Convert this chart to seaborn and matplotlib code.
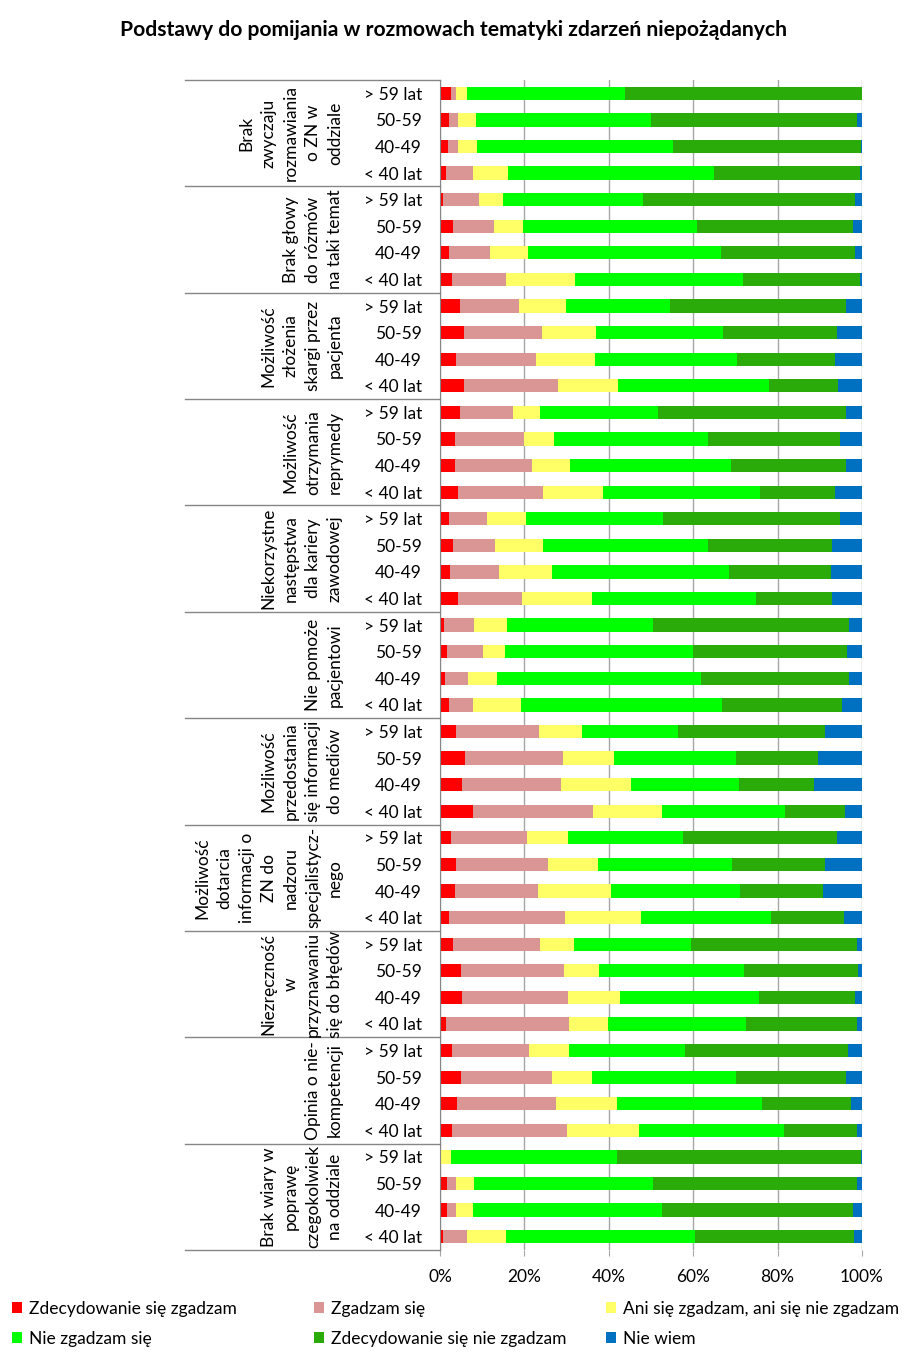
import numpy as np
import pandas as pd
import matplotlib
matplotlib.use('Agg')
import matplotlib.pyplot as plt
import matplotlib.transforms as mtransforms
from matplotlib.patches import Patch
import seaborn as sns

plt.rcParams['font.family'] = ['Lato', 'DejaVu Sans']

groups = [
    "Brak\nzwyczaju\nrozmawiania\no ZN w\noddziale",
    "Brak głowy\ndo rózmów\nna taki temat",
    "Możliwość\nzłożenia\nskargi przez\npacjenta",
    "Możliwość\notrzymania\nreprymedy",
    "Niekorzystne\nnastępstwa\ndla kariery\nzawodowej",
    "Nie pomoże\npacjentowi",
    "Możliwość\nprzedostania\nsię informacji\ndo mediów",
    "Możliwość\ndotarcia\ninformacji o\nZN do\nnadzoru\nspecjalistycz-\nnego",
    "Niezręczność\nw\nprzyznawaniu\nsię do błędów",
    "Opinia o nie-\nkompetencji",
    "Brak wiary w\npoprawę\nczegokolwiek\nna oddziale",
]
ages = ['> 59 lat', '50-59', '40-49', '< 40 lat']

series_names = ['Zdecydowanie się zgadzam', 'Zgadzam się', 'Ani się zgadzam, ani się nie zgadzam',
                'Nie zgadzam się', 'Zdecydowanie się nie zgadzam', 'Nie wiem']
colors = ['#FF0000', '#D99694', '#FFFF66', '#00FF00', '#2AAB0A', '#0070C0']

# values in %, rows: for each group > 59, 50-59, 40-49, < 40
zdecydowanie_tak = [2.6, 2.1, 1.8, 1.4, 0.7, 3.1, 2.1, 2.8, 4.7, 5.7, 3.8, 5.7, 4.7, 3.6, 3.6, 4.3,
                    2.1, 3.1, 2.4, 4.3, 0.9, 1.7, 1.2, 2.1, 3.8, 5.9, 5.2, 7.8, 2.6, 3.8, 3.6, 2.1,
                    3.1, 5.0, 5.2, 1.4, 2.8, 5.0, 4.0, 2.8, 0.2, 1.7, 1.7, 0.7]
zgadzam = [1.3, 2.2, 2.5, 6.4, 8.5, 9.7, 9.7, 12.8, 14.0, 18.5, 18.9, 22.3, 12.6, 16.3, 18.2, 20.1,
           9.0, 9.9, 11.6, 15.1, 7.2, 8.5, 5.4, 5.7, 19.7, 23.2, 23.5, 28.5, 18.0, 21.8, 19.6, 27.5,
           20.6, 24.4, 25.1, 29.2, 18.3, 21.5, 23.5, 27.3, 0.0, 2.1, 2.1, 5.7]
ani_ani = [2.4, 4.2, 4.5, 8.3, 5.7, 6.9, 9.1, 16.4, 11.2, 12.8, 14.0, 14.2, 6.4, 7.1, 9.0, 14.2,
           9.3, 11.4, 12.5, 16.6, 7.8, 5.2, 6.9, 11.4, 10.1, 12.1, 16.6, 16.3, 9.7, 11.8, 17.3, 18.0,
           8.1, 8.3, 12.4, 9.2, 9.5, 9.5, 14.4, 17.1, 2.4, 4.3, 4.0, 9.2]
nie_zgadzam = [37.5, 41.5, 46.4, 48.8, 33.2, 41.2, 45.7, 39.8, 24.6, 30.1, 33.7, 35.8, 28.0, 36.5, 38.2, 37.2,
               32.4, 39.1, 42.0, 38.9, 34.6, 44.6, 48.3, 47.6, 22.8, 28.9, 25.6, 29.2, 27.3, 31.8, 30.6, 30.8,
               27.7, 34.3, 32.9, 32.7, 27.5, 34.1, 34.4, 34.3, 39.3, 42.4, 44.8, 44.8]
zdecydowanie_nie = [56.2, 48.9, 44.5, 34.6, 50.2, 37.0, 31.7, 27.7, 41.7, 27.0, 23.2, 16.3, 44.5, 31.3, 27.2, 17.8,
                    42.0, 29.4, 24.2, 18.0, 46.4, 36.4, 35.1, 28.5, 34.8, 19.5, 17.7, 14.2, 36.5, 22.0, 19.7, 17.3,
                    39.3, 27.1, 22.7, 26.3, 38.6, 26.1, 21.1, 17.3, 57.9, 48.3, 45.3, 37.7]
nie_wiem = [0.0, 1.1, 0.3, 0.5, 1.7, 2.1, 1.7, 0.5, 3.8, 5.9, 6.4, 5.7, 3.8, 5.2, 3.8, 6.4,
            5.2, 7.1, 7.3, 7.1, 3.1, 3.6, 3.1, 4.7, 8.8, 10.4, 11.4, 4.0, 5.9, 8.8, 9.2, 4.3,
            1.2, 0.9, 1.7, 1.2, 3.3, 3.8, 2.6, 1.2, 0.2, 1.2, 2.1, 1.9]

vals = np.array([zdecydowanie_tak, zgadzam, ani_ani, nie_zgadzam, zdecydowanie_nie, nie_wiem]).T
vals = vals / vals.sum(axis=1, keepdims=True) * 100
cum = vals.cumsum(axis=1)

row_ids = [f"{g}|{a}" for g in range(len(groups)) for a in ages]
df = pd.DataFrame(cum, columns=series_names)
df['row'] = row_ids

fig = plt.figure(figsize=(9.07, 13.55), dpi=100)
ax = fig.add_axes([440 / 907, 1 - 1250 / 1355, 422 / 907, 1170 / 1355])

# stacked bars: draw cumulative totals from the last series to the first
for i in reversed(range(len(series_names))):
    sns.barplot(data=df, x=series_names[i], y='row', order=row_ids, orient='h',
                color=colors[i], saturation=1, width=0.5, linewidth=0, ax=ax)

ax.set_xlim(0, 100)
ax.set_ylim(len(row_ids) - 0.5, -0.5)
ax.set_xticks(range(0, 101, 20))
ax.set_xticklabels([f"{t}%" for t in range(0, 101, 20)], fontsize=12.5)
ax.tick_params(axis='x', length=4, color='#A6A6A6', pad=10)
ax.xaxis.grid(True, color='#A6A6A6', linewidth=1)
ax.set_axisbelow(True)
ax.set_xlabel('')
ax.set_ylabel('')
ax.set_yticks(range(len(row_ids)))
ax.set_yticklabels(ages * len(groups), fontsize=12.5)
ax.tick_params(axis='y', length=0, pad=13)
for s in ['top', 'right', 'bottom']:
    ax.spines[s].set_visible(False)
ax.spines['left'].set_color('#868686')

# category table: group separators and rotated group labels
trans = mtransforms.blended_transform_factory(ax.transAxes, ax.transData)
x_left = (185 - 440) / 422
for k in range(len(groups) + 1):
    y = k * 4 - 0.5
    ax.plot([x_left, 0], [y, y], color='#868686', linewidth=1, transform=trans, clip_on=False)
for k, g in enumerate(groups):
    ax.text((343 - 440) / 422, k * 4 + 1.5, g, transform=trans, rotation=90,
            ha='right', va='center', multialignment='center', fontsize=12.5, linespacing=1.47)

fig.text(0.5, 1 - 30 / 1355, 'Podstawy do pomijania w rozmowach tematyki zdarzeń niepożądanych',
         ha='center', va='center', fontsize=15.2, fontweight='bold')

# legend in three columns
col_x = [12, 314, 606]
for c in range(3):
    handles = [Patch(facecolor=colors[c], edgecolor='none'), Patch(facecolor=colors[c + 3], edgecolor='none')]
    labels = [series_names[c], series_names[c + 3]]
    fig.legend(handles, labels, loc='upper left', bbox_to_anchor=(col_x[c] / 907, 1 - 1301 / 1355),
               frameon=False, fontsize=12.5, handlelength=0.6, handleheight=0.6, handletextpad=0.4,
               labelspacing=0.78, borderpad=0, borderaxespad=0)

fig.savefig('out.png', dpi=100)
